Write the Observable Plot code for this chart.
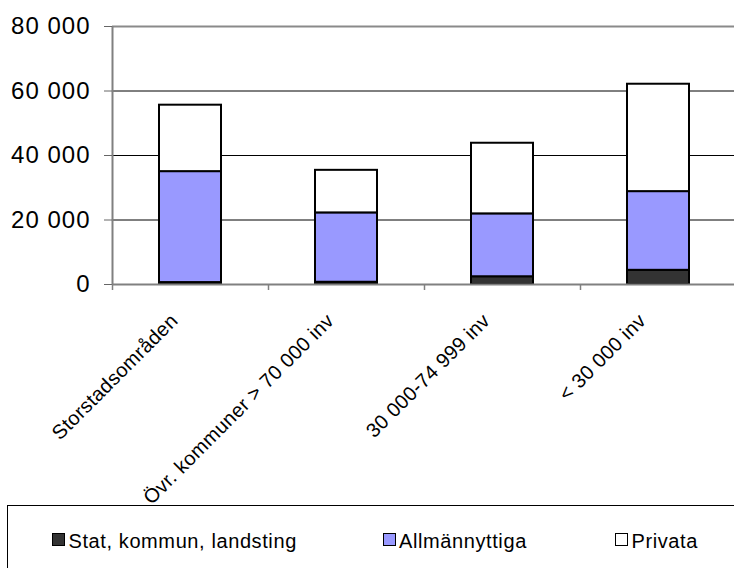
<!DOCTYPE html>
<html>
<head>
<meta charset="utf-8">
<script src="https://cdn.jsdelivr.net/npm/d3@7"></script>
<script src="https://cdn.jsdelivr.net/npm/@observablehq/plot@0.6"></script>
<style>
  html, body { margin: 0; padding: 0; background: #fff; overflow: hidden; }
  body { font-family: "Liberation Sans", Arial, sans-serif; }
  #wrap { position: relative; width: 734px; height: 568px; overflow: hidden; }
  #chart svg { display: block; overflow: visible; }
  #chart g[aria-label="y-axis tick label"] text { letter-spacing: 1px; }
  #chart g[aria-label="x-axis tick label"] text { letter-spacing: 0.3px; }
  .legend {
    position: absolute; left: 7px; top: 505px; width: 800px; height: 100px;
    border-top: 1.5px solid #000; border-left: 1.5px solid #000;
    background: transparent; pointer-events: none;
  }
  .legend .sw { position: absolute; top: 27px; width: 13px; height: 13px; box-sizing: border-box; border: 1.5px solid #000; }
  .legend .lab { position: absolute; top: 24.5px; font-size: 20px; line-height: 20px; letter-spacing: 0.6px; color: #000; white-space: nowrap; }
</style>
</head>
<body>
<div id="wrap">
  <div id="chart"></div>
  <div class="legend" id="legend"></div>
</div>
<script>
// Dwellings by owner category and municipality group (stacked)
const categories = ["Storstadsområden", "Övr. kommuner > 70 000 inv", "30 000-74 999 inv", "< 30 000 inv"];
const series = ["Stat, kommun, landsting", "Allmännyttiga", "Privata"];
const statKommunLandsting = [600, 700, 2400, 4400];
const allmannyttiga = [34400, 21500, 19500, 24400];
const privata = [20600, 13200, 21900, 33300];
const yTicks = [0, 20000, 40000, 60000, 80000];
const gridValues = [20000, 40000, 60000];
const seriesColors = ["#333333", "#9999ff", "#ffffff"];

const values = [statKommunLandsting, allmannyttiga, privata];
const rows = series.flatMap((s, i) =>
  categories.map((c, j) => ({category: c, series: s, value: values[i][j]}))
);

const fmt = d => d3.format(",")(d).replace(/,/g, "\u00a0");

const xRange = [112, 736];
const paddingInner = 0.6, paddingOuter = 0.3;
const step = (xRange[1] - xRange[0]) / (categories.length - paddingInner + 2 * paddingOuter);
const halfStep = step / 2;

const chart = Plot.plot({
  width: 734,
  height: 505,
  marginLeft: 112,
  marginRight: 0,
  marginTop: 26,
  marginBottom: 221,
  x: {domain: categories, range: xRange, paddingInner, paddingOuter, axis: null},
  y: {domain: [0, 80000], axis: null},
  color: {domain: series, range: seriesColors},
  style: {fontFamily: "'Liberation Sans', Arial, sans-serif", fontSize: "20px", background: "white", overflow: "visible"},
  marks: [
    Plot.ruleY(gridValues, {stroke: "#000", strokeWidth: 1}),
    Plot.ruleY([80000], {stroke: "#8a8a8a", strokeWidth: 2}),
    Plot.barY(rows, {x: "category", y: "value", fill: "series", order: series, stroke: "#000", strokeWidth: 2}),
    Plot.ruleY([0], {stroke: "#808080", strokeWidth: 2}),
    Plot.ruleX([categories[0]], {dx: -halfStep, stroke: "#808080", strokeWidth: 2}),
    Plot.axisY({ticks: yTicks, tickSize: 8, tickPadding: 14, tickFormat: fmt, fontSize: 24, stroke: "#666", fill: "#000", label: null}),
    Plot.axisX({tickSize: 6, fill: "none", dx: -halfStep, stroke: "#808080", strokeWidth: 1.5, label: null}),
    Plot.axisX({tickSize: 0, tickRotate: -45, tickPadding: 33, dx: -16, fontSize: 20, fill: "#000", label: null})
  ]
});
document.getElementById("chart").append(chart);

// Legend below the plot
const legend = document.getElementById("legend");
const swatchLeft = [43.5, 374.5, 606.5];
const labelLeft = [60.5, 391, 623.5];
series.forEach((s, i) => {
  const sw = document.createElement("div");
  sw.className = "sw";
  sw.style.left = swatchLeft[i] + "px";
  sw.style.background = seriesColors[i];
  const lab = document.createElement("div");
  lab.className = "lab";
  lab.style.left = labelLeft[i] + "px";
  lab.textContent = s;
  legend.append(sw, lab);
});
</script>
</body>
</html>
